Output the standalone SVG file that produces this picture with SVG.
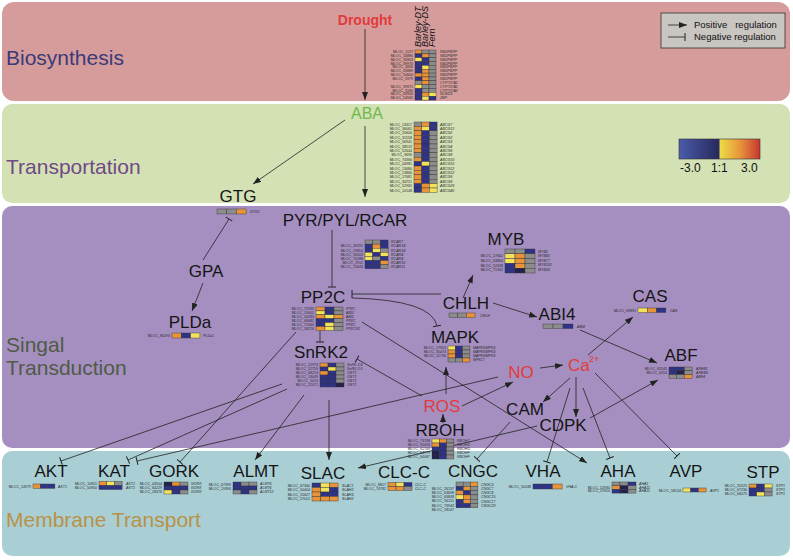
<svg xmlns="http://www.w3.org/2000/svg" width="793" height="560" viewBox="0 0 793 560">
<defs>
<style>
.band-l{font-family:"Liberation Sans",Arial,sans-serif;font-size:21px}
.nd{font-family:"Liberation Sans",Arial,sans-serif;font-size:17px;fill:#151515;text-anchor:middle}
.rd{font-family:"Liberation Sans",Arial,sans-serif;font-size:17px;fill:#e23b3b;text-anchor:middle}
.gl{font-family:"Liberation Sans",Arial,sans-serif;font-size:3.6px;fill:#2a2a2a}
.gr{font-family:"Liberation Sans",Arial,sans-serif;font-size:3.6px;fill:#2a2a2a;font-style:italic}
.le{text-anchor:end}
.o{fill:#e8923a;stroke:#333;stroke-width:0.4}
.y{fill:#f2e25c;stroke:#333;stroke-width:0.4}
.b{fill:#2f3388;stroke:#333;stroke-width:0.4}
.g{fill:#8c8c8c;stroke:#333;stroke-width:0.4}
.n{fill:#22224c;stroke:#333;stroke-width:0.4}
.c{fill:none;stroke:#222;stroke-width:0.8}
.pa{marker-end:url(#arr)}
.ta{marker-end:url(#tb)}
.lt{font-family:"Liberation Sans",Arial,sans-serif;font-size:9.5px;fill:#111;white-space:pre}
</style>
<marker id="arr" viewBox="0 0 8 6" refX="8" refY="3" markerWidth="8" markerHeight="6" markerUnits="userSpaceOnUse" orient="auto"><path d="M0,0 L8,3 L0,6 z" fill="#222"/></marker>
<marker id="tb" viewBox="0 0 2 8" refX="1" refY="4" markerWidth="2" markerHeight="8" markerUnits="userSpaceOnUse" orient="auto"><path d="M1,0 V8" stroke="#222" stroke-width="1"/></marker>
<linearGradient id="cb" x1="0" y1="0" x2="1" y2="0">
<stop offset="0" stop-color="#4b5cab"/><stop offset="0.495" stop-color="#26295c"/><stop offset="0.505" stop-color="#ecdc48"/><stop offset="0.75" stop-color="#e8963a"/><stop offset="1" stop-color="#c63630"/>
</linearGradient>
</defs>
<rect width="793" height="560" fill="#fff"/>
<g id="bands">
<rect x="2" y="2" width="788" height="99" rx="12" fill="#d59c9b"/>
<rect x="2" y="104" width="788" height="99" rx="10" fill="#d4e1b5"/>
<rect x="2" y="206" width="788" height="242" rx="10" fill="#a58fc0"/>
<rect x="2" y="451" width="788" height="105" rx="10" fill="#a9cfd5"/>
<text class="band-l" x="6" y="65" fill="#3b3a78">Biosynthesis</text>
<text class="band-l" x="6" y="174" fill="#6f4a86">Transportation</text>
<text class="band-l" x="6" y="352" fill="#4f5b45">Singal</text>
<text class="band-l" x="6" y="375" fill="#4f5b45">Transduction</text>
<text class="band-l" x="6" y="527" fill="#b89248">Membrane Transport</text>
</g>
<g id="legend">
<rect x="661" y="13" width="124" height="35" fill="#c9c5c1" stroke="#333" stroke-width="0.8"/>
<path class="c pa" d="M668,25 H687"/>
<path class="c ta" d="M668,37 H685"/>
<text class="lt" x="694" y="28">Positive   regulation</text>
<text class="lt" x="694" y="40">Negative regulation</text>
</g>
<g id="colorbar">
<rect x="679" y="139" width="81" height="20" fill="url(#cb)" stroke="#333" stroke-width="0.6"/>
<text x="680" y="172" font-family="Liberation Sans, Arial, sans-serif" font-size="12" fill="#111">-3.0</text>
<text x="711" y="172" font-family="Liberation Sans, Arial, sans-serif" font-size="12" fill="#111">1:1</text>
<text x="741" y="172" font-family="Liberation Sans, Arial, sans-serif" font-size="12" fill="#111">3.0</text>
</g>
<g id="connectors">
<path class="c pa" d="M365,29 V100"/>
<path class="c pa" d="M365,126 V197"/>
<path class="c pa" d="M345,120 L253,184"/>
<path class="c ta" d="M203,260 L229,219"/>
<path class="c pa" d="M203,283 L192,311"/>
<path class="c ta" d="M332,230 V287"/>
<path class="c ta" d="M320,331 V342"/>
<path class="c ta" d="M441,294 L352,294"/>
<path class="c ta" d="M352,298 Q432,300 437,326"/>
<path class="c pa" d="M463,298 L473,275"/>
<path class="c pa" d="M493,303 L537,317"/>
<path class="c pa" d="M580,330 L657,363"/>
<path class="c pa" d="M588,355 L633,317"/>
<path class="c pa" d="M446,394 V367"/>
<path class="c pa" d="M443,423 V414"/>
<path class="c pa" d="M462,406 L513,382"/>
<path class="c pa" d="M540,368 L563,365"/>
<path class="c pa" d="M570,378 L543,402"/>
<path class="c pa" d="M576,377 V417"/>
<path class="c pa" d="M590,418 L658,380"/>
<path class="c ta" d="M570,388 L547,462"/>
<path class="c ta" d="M583,388 L610,458"/>
<path class="c ta" d="M595,373 L677,456"/>
<path class="c ta" d="M510,422 L477,459"/>
<path class="c pa" d="M537,426 L358,468"/>
<path class="c pa" d="M362,322 L587,463"/>
<path class="c ta" d="M422,396 L357,359"/>
<path class="c ta" d="M282,384 L61,461"/>
<path class="c ta" d="M287,389 L128,460"/>
<path class="c ta" d="M296,332 L180,462"/>
<path class="c pa" d="M304,395 L255,460"/>
<path class="c ta" d="M498,377 L137,461"/>
<path class="c pa" d="M329,400 V460"/>
</g>
<g id="drought"><text x="365" y="25" font-family="Liberation Sans, Arial, sans-serif" font-size="14" font-weight="bold" fill="#e23b3b" text-anchor="middle">Drought</text></g>
<g id="headers" font-family="Liberation Sans, Arial, sans-serif" font-size="9" fill="#111" font-style="italic">
<text transform="translate(421,47) rotate(-90)">Barley-DT</text>
<text transform="translate(428,47) rotate(-90)">Barley-DS</text>
<text transform="translate(435,47) rotate(-90)">Fern</text>
</g>
<g id="bio-heat" transform="translate(415,50)">
<rect class="o" x="0" y="0" width="7" height="3.85"/><rect class="g" x="7" y="0" width="7" height="3.85"/><rect class="g" x="14" y="0" width="7" height="3.85"/>
<rect class="b" x="0" y="3.85" width="7" height="3.85"/><rect class="o" x="7" y="3.85" width="7" height="3.85"/><rect class="g" x="14" y="3.85" width="7" height="3.85"/>
<rect class="y" x="0" y="7.7" width="7" height="3.85"/><rect class="b" x="7" y="7.7" width="7" height="3.85"/><rect class="g" x="14" y="7.7" width="7" height="3.85"/>
<rect class="b" x="0" y="11.55" width="7" height="3.85"/><rect class="b" x="7" y="11.55" width="7" height="3.85"/><rect class="g" x="14" y="11.55" width="7" height="3.85"/>
<rect class="b" x="0" y="15.4" width="7" height="3.85"/><rect class="y" x="7" y="15.4" width="7" height="3.85"/><rect class="g" x="14" y="15.4" width="7" height="3.85"/>
<rect class="b" x="0" y="19.25" width="7" height="3.85"/><rect class="o" x="7" y="19.25" width="7" height="3.85"/><rect class="g" x="14" y="19.25" width="7" height="3.85"/>
<rect class="o" x="0" y="23.1" width="7" height="3.85"/><rect class="o" x="7" y="23.1" width="7" height="3.85"/><rect class="g" x="14" y="23.1" width="7" height="3.85"/>
<rect class="b" x="0" y="26.95" width="7" height="3.85"/><rect class="o" x="7" y="26.95" width="7" height="3.85"/><rect class="g" x="14" y="26.95" width="7" height="3.85"/>
<rect class="g" x="0" y="30.8" width="7" height="3.85"/><rect class="o" x="7" y="30.8" width="7" height="3.85"/><rect class="g" x="14" y="30.8" width="7" height="3.85"/>
<rect class="y" x="0" y="34.65" width="7" height="3.85"/><rect class="g" x="7" y="34.65" width="7" height="3.85"/><rect class="g" x="14" y="34.65" width="7" height="3.85"/>
<rect class="b" x="0" y="38.5" width="7" height="3.85"/><rect class="g" x="7" y="38.5" width="7" height="3.85"/><rect class="g" x="14" y="38.5" width="7" height="3.85"/>
<rect class="b" x="0" y="42.35" width="7" height="3.85"/><rect class="o" x="7" y="42.35" width="7" height="3.85"/><rect class="y" x="14" y="42.35" width="7" height="3.85"/>
<rect class="b" x="0" y="46.2" width="7" height="3.85"/><rect class="y" x="7" y="46.2" width="7" height="3.85"/><rect class="b" x="14" y="46.2" width="7" height="3.85"/>
<g class="gl le">
<text x="-2" y="3">MLOC_1127</text><text x="-2" y="6.9">MLOC_16880</text><text x="-2" y="10.7">MLOC_35803</text><text x="-2" y="14.6">MLOC_39970</text><text x="-2" y="18.4">MLOC_3696</text><text x="-2" y="22.3">MLOC_43889</text><text x="-2" y="26.1">MLOC_50600</text><text x="-2" y="30">MLOC_5979</text><text x="-2" y="37.7">MLOC_59971</text><text x="-2" y="41.5">MLOC_3180</text><text x="-2" y="45.4">MLOC_43900</text><text x="-2" y="49.2">MLOC_54945</text>
</g>
<g class="gr">
<text x="25" y="3">NSDPBPP</text><text x="25" y="6.9">NSDPBPP</text><text x="25" y="10.7">NSDPBPP</text><text x="25" y="14.6">NSDPBPP</text><text x="25" y="18.4">NSDPBPP</text><text x="25" y="22.3">NSDPBPP</text><text x="25" y="26.1">NSDPBPP</text><text x="25" y="30">NSDPBPP</text><text x="25" y="33.8">CYP707A1</text><text x="25" y="37.7">CYP707A1</text><text x="25" y="41.5">CYP707A2</text><text x="25" y="45.4">NCED3</text><text x="25" y="49.2">ZEP</text>
</g>
</g>
<g id="ABA"><text class="nd" x="367" y="119" style="fill:#6fb84c;font-size:16px">ABA</text></g>
<g id="aba-heat" transform="translate(414,122)">
<rect class="g" x="0" y="0" width="7.7" height="4.4"/><rect class="o" x="7.7" y="0" width="7.7" height="4.4"/><rect class="b" x="15.4" y="0" width="7.7" height="4.4"/>
<rect class="o" x="0" y="4.4" width="7.7" height="4.4"/><rect class="y" x="7.7" y="4.4" width="7.7" height="4.4"/><rect class="b" x="15.4" y="4.4" width="7.7" height="4.4"/>
<rect class="o" x="0" y="8.8" width="7.7" height="4.4"/><rect class="b" x="7.7" y="8.8" width="7.7" height="4.4"/><rect class="g" x="15.4" y="8.8" width="7.7" height="4.4"/>
<rect class="o" x="0" y="13.2" width="7.7" height="4.4"/><rect class="b" x="7.7" y="13.2" width="7.7" height="4.4"/><rect class="g" x="15.4" y="13.2" width="7.7" height="4.4"/>
<rect class="o" x="0" y="17.6" width="7.7" height="4.4"/><rect class="b" x="7.7" y="17.6" width="7.7" height="4.4"/><rect class="g" x="15.4" y="17.6" width="7.7" height="4.4"/>
<rect class="o" x="0" y="22" width="7.7" height="4.4"/><rect class="b" x="7.7" y="22" width="7.7" height="4.4"/><rect class="g" x="15.4" y="22" width="7.7" height="4.4"/>
<rect class="o" x="0" y="26.4" width="7.7" height="4.4"/><rect class="b" x="7.7" y="26.4" width="7.7" height="4.4"/><rect class="g" x="15.4" y="26.4" width="7.7" height="4.4"/>
<rect class="g" x="0" y="30.8" width="7.7" height="4.4"/><rect class="b" x="7.7" y="30.8" width="7.7" height="4.4"/><rect class="g" x="15.4" y="30.8" width="7.7" height="4.4"/>
<rect class="o" x="0" y="35.2" width="7.7" height="4.4"/><rect class="b" x="7.7" y="35.2" width="7.7" height="4.4"/><rect class="g" x="15.4" y="35.2" width="7.7" height="4.4"/>
<rect class="b" x="0" y="39.6" width="7.7" height="4.4"/><rect class="y" x="7.7" y="39.6" width="7.7" height="4.4"/><rect class="g" x="15.4" y="39.6" width="7.7" height="4.4"/>
<rect class="o" x="0" y="44" width="7.7" height="4.4"/><rect class="b" x="7.7" y="44" width="7.7" height="4.4"/><rect class="g" x="15.4" y="44" width="7.7" height="4.4"/>
<rect class="o" x="0" y="48.4" width="7.7" height="4.4"/><rect class="b" x="7.7" y="48.4" width="7.7" height="4.4"/><rect class="g" x="15.4" y="48.4" width="7.7" height="4.4"/>
<rect class="o" x="0" y="52.8" width="7.7" height="4.4"/><rect class="b" x="7.7" y="52.8" width="7.7" height="4.4"/><rect class="g" x="15.4" y="52.8" width="7.7" height="4.4"/>
<rect class="o" x="0" y="57.2" width="7.7" height="4.4"/><rect class="b" x="7.7" y="57.2" width="7.7" height="4.4"/><rect class="g" x="15.4" y="57.2" width="7.7" height="4.4"/>
<rect class="b" x="0" y="61.6" width="7.7" height="4.4"/><rect class="o" x="7.7" y="61.6" width="7.7" height="4.4"/><rect class="y" x="15.4" y="61.6" width="7.7" height="4.4"/>
<rect class="b" x="0" y="66" width="7.7" height="4.4"/><rect class="o" x="7.7" y="66" width="7.7" height="4.4"/><rect class="y" x="15.4" y="66" width="7.7" height="4.4"/>
<g class="gl le">
<text x="-2" y="3.5">MLOC_13317</text><text x="-2" y="7.9">MLOC_36061</text><text x="-2" y="12.3">MLOC_20606</text><text x="-2" y="16.7">MLOC_31558</text><text x="-2" y="21.1">MLOC_56941</text><text x="-2" y="25.5">MLOC_38519</text><text x="-2" y="29.9">MLOC_52644</text><text x="-2" y="34.3">MLOC_3696</text><text x="-2" y="38.7">MLOC_74366</text><text x="-2" y="43.1">MLOC_44981</text><text x="-2" y="47.5">MLOC_13680</text><text x="-2" y="51.9">MLOC_13866</text><text x="-2" y="56.3">MLOC_17681</text><text x="-2" y="60.7">MLOC_34721</text><text x="-2" y="65.1">MLOC_52965</text><text x="-2" y="69.5">MLOC_10148</text>
</g>
<g class="gr">
<text x="26" y="3.5">ABCG7</text><text x="26" y="7.9">ABCG12</text><text x="26" y="12.3">ABCG2</text><text x="26" y="16.7">ABCG2</text><text x="26" y="21.1">ABCG3</text><text x="26" y="25.5">ABCG4</text><text x="26" y="29.9">ABCG6</text><text x="26" y="34.3">ABCG8</text><text x="26" y="38.7">ABCG10</text><text x="26" y="43.1">ABCG10</text><text x="26" y="47.5">ABCG12</text><text x="26" y="51.9">ABCG12</text><text x="26" y="56.3">ABCG9</text><text x="26" y="60.7">ABCG8</text><text x="26" y="65.1">ABCG29</text><text x="26" y="69.5">ABCG40</text>
</g>
</g>
<g id="GTG">
<text class="nd" x="238" y="202">GTG</text>
<rect class="g" x="217" y="209" width="9.7" height="5"/><rect class="g" x="226.7" y="209" width="9.7" height="5"/><rect class="o" x="236.4" y="209" width="9.7" height="5"/>
<text class="gr" x="250" y="213">GTG1</text>
</g>
<g id="PYR">
<text class="nd" x="345" y="226">PYR/PYL/RCAR</text>
<g transform="translate(365,240)">
<rect class="g" x="0" y="0" width="7.7" height="4.1"/><rect class="g" x="7.7" y="0" width="7.7" height="4.1"/><rect class="b" x="15.4" y="0" width="7.7" height="4.1"/>
<rect class="b" x="0" y="4.1" width="7.7" height="4.1"/><rect class="o" x="7.7" y="4.1" width="7.7" height="4.1"/><rect class="b" x="15.4" y="4.1" width="7.7" height="4.1"/>
<rect class="b" x="0" y="8.2" width="7.7" height="4.1"/><rect class="y" x="7.7" y="8.2" width="7.7" height="4.1"/><rect class="g" x="15.4" y="8.2" width="7.7" height="4.1"/>
<rect class="y" x="0" y="12.3" width="7.7" height="4.1"/><rect class="b" x="7.7" y="12.3" width="7.7" height="4.1"/><rect class="y" x="15.4" y="12.3" width="7.7" height="4.1"/>
<rect class="y" x="0" y="16.4" width="7.7" height="4.1"/><rect class="g" x="7.7" y="16.4" width="7.7" height="4.1"/><rect class="b" x="15.4" y="16.4" width="7.7" height="4.1"/>
<rect class="b" x="0" y="20.5" width="7.7" height="4.1"/><rect class="b" x="7.7" y="20.5" width="7.7" height="4.1"/><rect class="o" x="15.4" y="20.5" width="7.7" height="4.1"/>
<rect class="b" x="0" y="24.6" width="7.7" height="4.1"/><rect class="b" x="7.7" y="24.6" width="7.7" height="4.1"/><rect class="g" x="15.4" y="24.6" width="7.7" height="4.1"/>
<g class="gl le"><text x="-2" y="7.4">MLOC_39291</text><text x="-2" y="11.5">MLOC_29854</text><text x="-2" y="15.6">MLOC_56503</text><text x="-2" y="19.7">MLOC_70288</text><text x="-2" y="24">MLOC_2912</text><text x="-2" y="28">MLOC_74443</text></g>
<g class="gr"><text x="26" y="3.3">RCAR7</text><text x="26" y="7.4">RCAR14</text><text x="26" y="11.5">RCAR14</text><text x="26" y="15.6">RCAR4</text><text x="26" y="19.7">RCAR4</text><text x="26" y="24">RCAR10</text><text x="26" y="28">RCAR11</text></g>
</g>
</g>
<g id="GPA"><text class="nd" x="206" y="277">GPA</text></g>
<g id="PLDa">
<text class="nd" x="190" y="328">PLDa</text>
<rect class="o" x="172" y="333" width="9.3" height="5"/><rect class="b" x="181.3" y="333" width="9.3" height="5"/><rect class="y" x="190.6" y="333" width="9.3" height="5"/>
<text class="gl le" x="170" y="337">MLOC_86293</text>
<text class="gr" x="203" y="337">PLDa1</text>
</g>
<g id="PP2C">
<text class="nd" x="323" y="303">PP2C</text>
<g transform="translate(316,307)">
<rect class="o" x="0" y="0" width="9" height="3.9"/><rect class="b" x="9" y="0" width="9" height="3.9"/><rect class="g" x="18" y="0" width="9" height="3.9"/>
<rect class="y" x="0" y="3.9" width="9" height="3.9"/><rect class="b" x="9" y="3.9" width="9" height="3.9"/><rect class="g" x="18" y="3.9" width="9" height="3.9"/>
<rect class="o" x="0" y="7.8" width="9" height="3.9"/><rect class="y" x="9" y="7.8" width="9" height="3.9"/><rect class="o" x="18" y="7.8" width="9" height="3.9"/>
<rect class="b" x="0" y="11.7" width="9" height="3.9"/><rect class="b" x="9" y="11.7" width="9" height="3.9"/><rect class="g" x="18" y="11.7" width="9" height="3.9"/>
<rect class="b" x="0" y="15.6" width="9" height="3.9"/><rect class="y" x="9" y="15.6" width="9" height="3.9"/><rect class="g" x="18" y="15.6" width="9" height="3.9"/>
<rect class="o" x="0" y="19.5" width="9" height="3.9"/><rect class="y" x="9" y="19.5" width="9" height="3.9"/><rect class="g" x="18" y="19.5" width="9" height="3.9"/>
<g class="gl le"><text x="-2" y="3.1">MLOC_72939</text><text x="-2" y="7">MLOC_13402</text><text x="-2" y="10.9">MLOC_54183</text><text x="-2" y="14.8">MLOC_66682</text><text x="-2" y="18.7">MLOC_71063</text><text x="-2" y="22.6">MLOC_58726</text></g>
<g class="gr"><text x="30" y="3.1">PP2C</text><text x="30" y="7">ABI2</text><text x="30" y="10.9">ABI2</text><text x="30" y="14.8">PP2C</text><text x="30" y="18.7">PP2C</text><text x="30" y="22.6">PP2CG1</text></g>
</g>
</g>
<g id="SnRK2">
<text class="nd" x="321" y="358">SnRK2</text>
<g transform="translate(320,363)">
<rect class="o" x="0" y="0" width="8" height="4"/><rect class="b" x="8" y="0" width="8" height="4"/><rect class="g" x="16" y="0" width="8" height="4"/>
<rect class="b" x="0" y="4" width="8" height="4"/><rect class="y" x="8" y="4" width="8" height="4"/><rect class="g" x="16" y="4" width="8" height="4"/>
<rect class="o" x="0" y="8" width="8" height="4"/><rect class="b" x="8" y="8" width="8" height="4"/><rect class="g" x="16" y="8" width="8" height="4"/>
<rect class="b" x="0" y="12" width="8" height="4"/><rect class="b" x="8" y="12" width="8" height="4"/><rect class="g" x="16" y="12" width="8" height="4"/>
<rect class="b" x="0" y="16" width="8" height="4"/><rect class="b" x="8" y="16" width="8" height="4"/><rect class="g" x="16" y="16" width="8" height="4"/>
<rect class="b" x="0" y="20" width="8" height="4"/><rect class="b" x="8" y="20" width="8" height="4"/><rect class="n" x="16" y="20" width="8" height="4"/>
<g class="gl le"><text x="-2" y="3.2">MLOC_52973</text><text x="-2" y="7.2">MLOC_52759</text><text x="-2" y="11.2">MLOC_68213</text><text x="-2" y="15.2">MLOC_13049</text><text x="-2" y="19.2">MLOC_5013</text><text x="-2" y="23.2">MLOC_22071</text></g>
<g class="gr"><text x="27" y="3.2">SnRK 2.6</text><text x="27" y="7.2">SnRK 2.5</text><text x="27" y="11.2">OST1</text><text x="27" y="15.2">OST1</text><text x="27" y="19.2">OST1</text><text x="27" y="23.2">OST1</text></g>
</g>
</g>
<g id="MYB">
<text class="nd" x="506" y="245">MYB</text>
<g transform="translate(505,249)">
<rect class="g" x="0" y="0" width="10" height="4.8"/><rect class="g" x="10" y="0" width="10" height="4.8"/><rect class="b" x="20" y="0" width="10" height="4.8"/>
<rect class="y" x="0" y="4.8" width="10" height="4.8"/><rect class="o" x="10" y="4.8" width="10" height="4.8"/><rect class="g" x="20" y="4.8" width="10" height="4.8"/>
<rect class="y" x="0" y="9.6" width="10" height="4.8"/><rect class="o" x="10" y="9.6" width="10" height="4.8"/><rect class="g" x="20" y="9.6" width="10" height="4.8"/>
<rect class="b" x="0" y="14.4" width="10" height="4.8"/><rect class="o" x="10" y="14.4" width="10" height="4.8"/><rect class="g" x="20" y="14.4" width="10" height="4.8"/>
<rect class="b" x="0" y="19.2" width="10" height="4.8"/><rect class="n" x="10" y="19.2" width="10" height="4.8"/><rect class="g" x="20" y="19.2" width="10" height="4.8"/>
<g class="gl le"><text x="-2" y="7.9">MLOC_17662</text><text x="-2" y="12.7">MLOC_63864</text><text x="-2" y="17.5">MLOC_52438</text><text x="-2" y="22.3">MLOC_71332</text></g>
<g class="gr"><text x="33" y="3.6">MYB2</text><text x="33" y="8.2">MYB60</text><text x="33" y="12.8">MYB77</text><text x="33" y="17.4">MYB102</text><text x="33" y="22">MYB33</text></g>
</g>
</g>
<g id="CHLH">
<text class="nd" x="466" y="309">CHLH</text>
<rect class="g" x="449" y="313" width="8.7" height="4.5"/><rect class="g" x="457.7" y="313" width="8.7" height="4.5"/><rect class="o" x="466.4" y="313" width="8.7" height="4.5"/>
<text class="gr" x="480" y="317">CHLH</text>
</g>
<g id="ABI4">
<text class="nd" x="557" y="320">ABI4</text>
<rect class="g" x="543" y="324" width="10" height="4.5"/><rect class="g" x="553" y="324" width="10" height="4.5"/><rect class="b" x="563" y="324" width="10" height="4.5"/>
<text class="gr" x="577" y="328">ABI4</text>
</g>
<g id="MAPK">
<text class="nd" x="455" y="343">MAPK</text>
<g transform="translate(448,346)">
<rect class="y" x="0" y="0" width="7.3" height="4"/><rect class="b" x="7.3" y="0" width="7.3" height="4"/><rect class="g" x="14.6" y="0" width="7.3" height="4"/>
<rect class="o" x="0" y="4" width="7.3" height="4"/><rect class="b" x="7.3" y="4" width="7.3" height="4"/><rect class="g" x="14.6" y="4" width="7.3" height="4"/>
<rect class="o" x="0" y="8" width="7.3" height="4"/><rect class="b" x="7.3" y="8" width="7.3" height="4"/><rect class="g" x="14.6" y="8" width="7.3" height="4"/>
<rect class="g" x="0" y="12" width="7.3" height="4"/><rect class="g" x="7.3" y="12" width="7.3" height="4"/><rect class="o" x="14.6" y="12" width="7.3" height="4"/>
<g class="gl le"><text x="-2" y="3.2">MLOC_17914</text><text x="-2" y="7.2">MLOC_35474</text><text x="-2" y="11.2">MLOC_11736</text></g>
<g class="gr"><text x="25" y="3.2">MAPKKMPK3</text><text x="25" y="7.2">MAPKKMPK3</text><text x="25" y="11.2">MAPKKMPK3</text><text x="25" y="15.2">MPK17</text></g>
</g>
</g>
<g id="CAS">
<text class="nd" x="650" y="302">CAS</text>
<rect class="y" x="638" y="308" width="9.3" height="4.5"/><rect class="o" x="647.3" y="308" width="9.3" height="4.5"/><rect class="b" x="656.6" y="308" width="9.3" height="4.5"/>
<text class="gl le" x="636" y="312">MLOC_69891</text>
<text class="gr" x="670" y="312">CAS</text>
</g>
<g id="ABF">
<text class="nd" x="681" y="361">ABF</text>
<g transform="translate(669,367)">
<rect class="b" x="0" y="0" width="7.7" height="3.8"/><rect class="b" x="7.7" y="0" width="7.7" height="3.8"/><rect class="g" x="15.4" y="0" width="7.7" height="3.8"/>
<rect class="b" x="0" y="3.8" width="7.7" height="3.8"/><rect class="n" x="7.7" y="3.8" width="7.7" height="3.8"/><rect class="g" x="15.4" y="3.8" width="7.7" height="3.8"/>
<rect class="g" x="0" y="7.6" width="7.7" height="3.8"/><rect class="g" x="7.7" y="7.6" width="7.7" height="3.8"/><rect class="o" x="15.4" y="7.6" width="7.7" height="3.8"/>
<g class="gl le"><text x="-2" y="3">MLOC_65545</text><text x="-2" y="6.8">MLOC_6554</text></g>
<g class="gr"><text x="27" y="3">AREB1</text><text x="27" y="6.8">AREB3</text><text x="27" y="10.6">ABF4</text></g>
</g>
</g>
<g id="NO"><text class="rd" x="521" y="378">NO</text></g>
<g id="Ca"><text class="rd" x="568" y="371" style="text-anchor:start">Ca</text><text x="589" y="362" font-family="Liberation Sans, Arial, sans-serif" font-size="9" fill="#e23b3b">2+</text></g>
<g id="ROS"><text class="rd" x="442" y="412">ROS</text></g>
<g id="CAM"><text class="nd" x="525" y="415">CAM</text></g>
<g id="CDPK"><text class="nd" x="563" y="431">CDPK</text></g>
<g id="RBOH">
<text class="nd" x="440" y="436">RBOH</text>
<g transform="translate(432,439)">
<rect class="y" x="0" y="0" width="7.3" height="4"/><rect class="o" x="7.3" y="0" width="7.3" height="4"/><rect class="g" x="14.6" y="0" width="7.3" height="4"/>
<rect class="o" x="0" y="4" width="7.3" height="4"/><rect class="b" x="7.3" y="4" width="7.3" height="4"/><rect class="g" x="14.6" y="4" width="7.3" height="4"/>
<rect class="b" x="0" y="8" width="7.3" height="4"/><rect class="b" x="7.3" y="8" width="7.3" height="4"/><rect class="g" x="14.6" y="8" width="7.3" height="4"/>
<rect class="n" x="0" y="12" width="7.3" height="4"/><rect class="b" x="7.3" y="12" width="7.3" height="4"/><rect class="g" x="14.6" y="12" width="7.3" height="4"/>
<rect class="n" x="0" y="16" width="7.3" height="4"/><rect class="b" x="7.3" y="16" width="7.3" height="4"/><rect class="g" x="14.6" y="16" width="7.3" height="4"/>
<g class="gl le"><text x="-2" y="3.2">MLOC_73748</text><text x="-2" y="7.2">MLOC_55426</text><text x="-2" y="11.2">MLOC_61709</text><text x="-2" y="15.2">MLOC_64779</text><text x="-2" y="19.2">MLOC_64087</text></g>
<g class="gr"><text x="25" y="3.2">RBOHC</text><text x="25" y="7.2">RBOHD</text><text x="25" y="11.2">RBOHD</text><text x="25" y="15.2">RBOHF</text><text x="25" y="19.2">RBOHF</text></g>
</g>
</g>
<g id="AKT">
<text class="nd" x="51" y="477">AKT</text>
<rect class="o" x="33" y="484" width="7.3" height="4.3"/><rect class="b" x="40.3" y="484" width="7.3" height="4.3"/><rect class="b" x="47.6" y="484" width="7.3" height="4.3"/>
<text class="gl le" x="31" y="487.5">MLOC_14979</text><text class="gr" x="58" y="487.5">AKT1</text>
</g>
<g id="KAT">
<text class="nd" x="114" y="477">KAT</text>
<rect class="o" x="99" y="481.5" width="7.7" height="4"/><rect class="y" x="106.7" y="481.5" width="7.7" height="4"/><rect class="g" x="114.4" y="481.5" width="7.7" height="4"/>
<rect class="b" x="99" y="485.5" width="7.7" height="4"/><rect class="b" x="106.7" y="485.5" width="7.7" height="4"/><rect class="b" x="114.4" y="485.5" width="7.7" height="4"/>
<text class="gl le" x="97" y="484.5">MLOC_10811</text><text class="gl le" x="97" y="488.5">MLOC_50950</text>
<text class="gr" x="126" y="484.5">AKT1</text><text class="gr" x="126" y="488.5">AKT1</text>
</g>
<g id="GORK">
<text class="nd" x="174" y="477">GORK</text>
<rect class="n" x="164" y="482" width="8" height="4"/><rect class="o" x="172" y="482" width="8" height="4"/><rect class="g" x="180" y="482" width="8" height="4"/>
<rect class="b" x="164" y="486" width="8" height="4"/><rect class="b" x="172" y="486" width="8" height="4"/><rect class="b" x="180" y="486" width="8" height="4"/>
<rect class="y" x="164" y="490" width="8" height="4"/><rect class="b" x="172" y="490" width="8" height="4"/><rect class="g" x="180" y="490" width="8" height="4"/>
<text class="gl le" x="162" y="485">MLOC_44504</text><text class="gl le" x="162" y="489">MLOC_64229</text><text class="gl le" x="162" y="493">MLOC_18376</text>
<text class="gr" x="191" y="485">GORK</text><text class="gr" x="191" y="489">GORK</text><text class="gr" x="191" y="493">GORK</text>
</g>
<g id="ALMT">
<text class="nd" x="256" y="477">ALMT</text>
<rect class="b" x="233" y="482" width="8" height="4"/><rect class="g" x="241" y="482" width="8" height="4"/><rect class="g" x="249" y="482" width="8" height="4"/>
<rect class="b" x="233" y="486" width="8" height="4"/><rect class="b" x="241" y="486" width="8" height="4"/><rect class="b" x="249" y="486" width="8" height="4"/>
<rect class="g" x="233" y="490" width="8" height="4"/><rect class="b" x="241" y="490" width="8" height="4"/><rect class="g" x="249" y="490" width="8" height="4"/>
<text class="gl le" x="231" y="486">MLOC_67399</text><text class="gl le" x="231" y="490">MLOC_19394</text>
<text class="gr" x="260" y="485">ALMT6</text><text class="gr" x="260" y="489">ALMT6</text><text class="gr" x="260" y="493">ALMT12</text>
</g>
<g id="SLAC">
<text class="nd" x="323" y="479">SLAC</text>
<rect class="b" x="312" y="483" width="8.7" height="4.5"/><rect class="y" x="320.7" y="483" width="8.7" height="4.5"/><rect class="o" x="329.4" y="483" width="8.7" height="4.5"/>
<rect class="o" x="312" y="487.5" width="8.7" height="4.5"/><rect class="y" x="320.7" y="487.5" width="8.7" height="4.5"/><rect class="b" x="329.4" y="487.5" width="8.7" height="4.5"/>
<rect class="o" x="312" y="492" width="8.7" height="4.5"/><rect class="b" x="320.7" y="492" width="8.7" height="4.5"/><rect class="b" x="329.4" y="492" width="8.7" height="4.5"/>
<rect class="o" x="312" y="496.5" width="8.7" height="4.5"/><rect class="o" x="320.7" y="496.5" width="8.7" height="4.5"/><rect class="o" x="329.4" y="496.5" width="8.7" height="4.5"/>
<text class="gl le" x="310" y="486.5">MLOC_67340</text><text class="gl le" x="310" y="491">MLOC_50404</text><text class="gl le" x="310" y="495.5">MLOC_55627</text><text class="gl le" x="310" y="500">MLOC_57012</text>
<text class="gr" x="342" y="486.5">SLAC1</text><text class="gr" x="342" y="491">SLAH2</text><text class="gr" x="342" y="495.5">SLAH3</text><text class="gr" x="342" y="500">SLAH2</text>
</g>
<g id="CLC-C">
<text class="nd" x="404" y="478">CLC-C</text>
<rect class="o" x="388" y="482.5" width="8" height="4"/><rect class="y" x="396" y="482.5" width="8" height="4"/><rect class="b" x="404" y="482.5" width="8" height="4"/>
<rect class="o" x="388" y="486.5" width="8" height="4"/><rect class="o" x="396" y="486.5" width="8" height="4"/><rect class="g" x="404" y="486.5" width="8" height="4"/>
<text class="gl le" x="386" y="485.5">MLOC_8817</text><text class="gl le" x="386" y="489.5">MLOC_74782</text>
<text class="gr" x="415" y="485.5">CLC-C</text><text class="gr" x="415" y="489.5">CLC-C</text>
</g>
<g id="CNGC">
<text class="nd" x="473" y="477">CNGC</text>
<rect class="g" x="456" y="482" width="7.3" height="4.3"/><rect class="g" x="463.3" y="482" width="7.3" height="4.3"/><rect class="o" x="470.6" y="482" width="7.3" height="4.3"/>
<rect class="b" x="456" y="486.3" width="7.3" height="4.3"/><rect class="o" x="463.3" y="486.3" width="7.3" height="4.3"/><rect class="g" x="470.6" y="486.3" width="7.3" height="4.3"/>
<rect class="o" x="456" y="490.6" width="7.3" height="4.3"/><rect class="b" x="463.3" y="490.6" width="7.3" height="4.3"/><rect class="g" x="470.6" y="490.6" width="7.3" height="4.3"/>
<rect class="y" x="456" y="494.9" width="7.3" height="4.3"/><rect class="o" x="463.3" y="494.9" width="7.3" height="4.3"/><rect class="g" x="470.6" y="494.9" width="7.3" height="4.3"/>
<rect class="b" x="456" y="499.2" width="7.3" height="4.3"/><rect class="o" x="463.3" y="499.2" width="7.3" height="4.3"/><rect class="g" x="470.6" y="499.2" width="7.3" height="4.3"/>
<rect class="b" x="456" y="503.5" width="7.3" height="4.3"/><rect class="b" x="463.3" y="503.5" width="7.3" height="4.3"/><rect class="g" x="470.6" y="503.5" width="7.3" height="4.3"/>
<text class="gl le" x="454" y="489.5">MLOC_26137</text><text class="gl le" x="454" y="493.8">MLOC_63698</text><text class="gl le" x="454" y="498.1">MLOC_63848</text><text class="gl le" x="454" y="502.4">MLOC_56151</text><text class="gl le" x="454" y="506.7">MLOC_73943</text><text class="gl le" x="454" y="510.5">MLOC_18147</text>
<text class="gr" x="481" y="485.5">CNGC3</text><text class="gr" x="481" y="489.8">CNGC7</text><text class="gr" x="481" y="494.1">CNGC6</text><text class="gr" x="481" y="498.4">CNGC15</text><text class="gr" x="481" y="502.7">CNGC17</text><text class="gr" x="481" y="507">CNGC20</text>
</g>
<g id="VHA">
<text class="nd" x="543" y="477">VHA</text>
<rect class="b" x="533" y="484" width="9.7" height="5"/><rect class="b" x="542.7" y="484" width="9.7" height="5"/><rect class="o" x="552.4" y="484" width="9.7" height="5"/>
<text class="gl le" x="531" y="488">MLOC_50248</text><text class="gr" x="566" y="488">VHA-C</text>
</g>
<g id="AHA">
<text class="nd" x="618" y="477">AHA</text>
<rect class="g" x="612" y="482" width="8" height="3.7"/><rect class="g" x="620" y="482" width="8" height="3.7"/><rect class="b" x="628" y="482" width="8" height="3.7"/>
<rect class="o" x="612" y="485.7" width="8" height="3.7"/><rect class="n" x="620" y="485.7" width="8" height="3.7"/><rect class="g" x="628" y="485.7" width="8" height="3.7"/>
<rect class="b" x="612" y="489.4" width="8" height="3.7"/><rect class="n" x="620" y="489.4" width="8" height="3.7"/><rect class="g" x="628" y="489.4" width="8" height="3.7"/>
<text class="gl le" x="610" y="488.5">MLOC_52930</text><text class="gl le" x="610" y="492.2">MLOC_57610</text>
<text class="gr" x="639" y="485">AHA1</text><text class="gr" x="639" y="488.7">AHA11</text><text class="gr" x="639" y="492.4">AHA11</text>
</g>
<g id="AVP">
<text class="nd" x="686" y="477">AVP</text>
<rect class="y" x="683" y="488" width="7.7" height="4"/><rect class="b" x="690.7" y="488" width="7.7" height="4"/><rect class="o" x="698.4" y="488" width="7.7" height="4"/>
<text class="gl le" x="681" y="491.5">MLOC_58134</text><text class="gr" x="710" y="491.5">AVP1</text>
</g>
<g id="STP">
<text class="nd" x="763" y="478">STP</text>
<rect class="o" x="749" y="484" width="7.7" height="4"/><rect class="b" x="756.7" y="484" width="7.7" height="4"/><rect class="y" x="764.4" y="484" width="7.7" height="4"/>
<rect class="b" x="749" y="488" width="7.7" height="4"/><rect class="b" x="756.7" y="488" width="7.7" height="4"/><rect class="g" x="764.4" y="488" width="7.7" height="4"/>
<rect class="b" x="749" y="492" width="7.7" height="4"/><rect class="y" x="756.7" y="492" width="7.7" height="4"/><rect class="g" x="764.4" y="492" width="7.7" height="4"/>
<text class="gl le" x="747" y="487">MLOC_55525</text><text class="gl le" x="747" y="491">MLOC_67236</text><text class="gl le" x="747" y="495">MLOC_66075</text>
<text class="gr" x="776" y="487">STP1</text><text class="gr" x="776" y="491">STP1</text><text class="gr" x="776" y="495">STP1</text>
</g>
</svg>
